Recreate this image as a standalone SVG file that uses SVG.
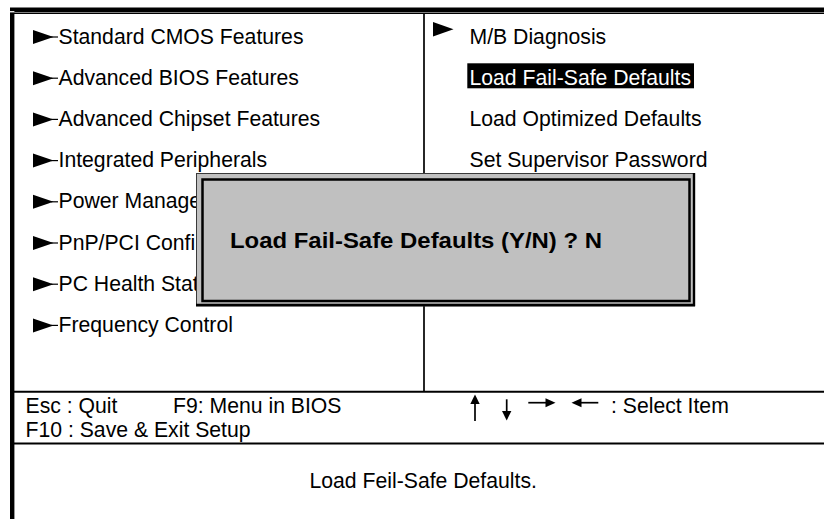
<svg xmlns="http://www.w3.org/2000/svg" width="824" height="519" viewBox="0 0 824 519">
  <style>
    .t { font-family: "Liberation Sans", Arial, sans-serif; font-size: 21.5px; fill: #000; }
    .inv { fill: #fff; }
    .b { font-weight: bold; font-size: 22.5px; }
    .ln { stroke: #000; fill: none; }
    .tri { fill: #000; }
  </style>
  <defs>
    <!-- submenu pointer: solid triangle with a short stub -->
    <g id="ptr">
      <polygon class="tri" points="0,-7 0,7 20.5,0"/>
      <line class="ln" x1="18" y1="0" x2="25" y2="0" stroke-width="1.2"/>
    </g>
  </defs>

  <rect x="0" y="0" width="824" height="519" fill="#fff"/>

  <!-- screen frame and dividers -->
  <g id="frame">
    <path class="ln" d="M12.2,519 V9.8 H824" stroke-width="4.4"/>
    <line class="ln" x1="14" y1="13.2" x2="824" y2="13.2" stroke-width="1.6"/>
    <rect x="10" y="11.1" width="4.4" height="1.3" fill="#fff"/>
    <line class="ln" x1="424" y1="13" x2="424" y2="391.7" stroke-width="1.7"/>
    <line class="ln" x1="14" y1="391.7" x2="824" y2="391.7" stroke-width="2"/>
    <line class="ln" x1="14" y1="443.6" x2="824" y2="443.6" stroke-width="2"/>
  </g>

  <!-- left menu column -->
  <g id="menu-left">
    <g id="item-standard-cmos"><use href="#ptr" x="33" y="37"/><text class="t" x="58.5" y="43.5" textLength="245" lengthAdjust="spacingAndGlyphs">Standard CMOS Features</text></g>
    <g id="item-advanced-bios"><use href="#ptr" x="33" y="78.2"/><text class="t" x="58.5" y="84.7" textLength="240.4" lengthAdjust="spacingAndGlyphs">Advanced BIOS Features</text></g>
    <g id="item-advanced-chipset"><use href="#ptr" x="33" y="119.4"/><text class="t" x="58.5" y="125.9" textLength="261.6" lengthAdjust="spacingAndGlyphs">Advanced Chipset Features</text></g>
    <g id="item-integrated"><use href="#ptr" x="33" y="160.6"/><text class="t" x="58.5" y="167.1" textLength="208.6" lengthAdjust="spacingAndGlyphs">Integrated Peripherals</text></g>
    <g id="item-power"><use href="#ptr" x="33" y="201.8"/><text class="t" x="58.5" y="208.3" textLength="142.6" lengthAdjust="spacingAndGlyphs">Power Manage</text></g>
    <g id="item-pnp"><use href="#ptr" x="33" y="243"/><text class="t" x="58.5" y="249.5" textLength="136.7" lengthAdjust="spacingAndGlyphs">PnP/PCI Confi</text></g>
    <g id="item-health"><use href="#ptr" x="33" y="284.2"/><text class="t" x="58.5" y="290.7" textLength="140.2" lengthAdjust="spacingAndGlyphs">PC Health Stat</text></g>
    <g id="item-frequency"><use href="#ptr" x="33" y="325.4"/><text class="t" x="58.5" y="331.9" textLength="174.4" lengthAdjust="spacingAndGlyphs">Frequency Control</text></g>
  </g>

  <!-- right menu column -->
  <g id="menu-right">
    <g id="item-mb-diagnosis">
      <polygon class="tri" points="433,22 433,36.4 453.5,29.2"/>
      <text class="t" x="469.5" y="43.5" textLength="136.7" lengthAdjust="spacingAndGlyphs">M/B Diagnosis</text>
    </g>
    <g id="item-failsafe">
      <rect x="467.3" y="63.3" width="226.7" height="25" fill="#000"/>
      <text class="t inv" x="469.5" y="84.7" textLength="221.5" lengthAdjust="spacingAndGlyphs">Load Fail-Safe Defaults</text>
    </g>
    <g id="item-optimized"><text class="t" x="469.5" y="125.9" textLength="232.1" lengthAdjust="spacingAndGlyphs">Load Optimized Defaults</text></g>
    <g id="item-supervisor"><text class="t" x="469.5" y="167.1" textLength="238" lengthAdjust="spacingAndGlyphs">Set Supervisor Password</text></g>
  </g>

  <!-- key help bar -->
  <g id="keys">
    <text class="t" x="25.5" y="412.7" textLength="91.9" lengthAdjust="spacingAndGlyphs">Esc : Quit</text>
    <text class="t" x="173" y="412.7" textLength="168.5" lengthAdjust="spacingAndGlyphs">F9: Menu in BIOS</text>
    <text class="t" x="25.5" y="436.7" textLength="225.1" lengthAdjust="spacingAndGlyphs">F10 : Save &amp; Exit Setup</text>
    <g id="arrow-keys">
      <line class="ln" x1="475" y1="401" x2="475" y2="421" stroke-width="1.7"/>
      <polygon class="tri" points="475,394.5 470.3,404 479.7,404"/>
      <line class="ln" x1="506.7" y1="399.3" x2="506.7" y2="413" stroke-width="1.7"/>
      <polygon class="tri" points="506.7,420.5 502,411 511.4,411"/>
      <line class="ln" x1="528.3" y1="402.7" x2="547" y2="402.7" stroke-width="1.7"/>
      <polygon class="tri" points="555.5,402.7 545.5,398.2 545.5,407.2"/>
      <line class="ln" x1="580" y1="402.7" x2="598.3" y2="402.7" stroke-width="1.7"/>
      <polygon class="tri" points="571.5,402.7 581.5,398.2 581.5,407.2"/>
    </g>
    <text class="t" x="611" y="412.7" textLength="117.8" lengthAdjust="spacingAndGlyphs">: Select Item</text>
  </g>

  <!-- item description -->
  <g id="description">
    <text class="t" x="309.5" y="488.3" textLength="227.4" lengthAdjust="spacingAndGlyphs">Load Feil-Safe Defaults.</text>
  </g>

  <!-- confirmation dialog -->
  <g id="dialog">
    <rect x="196.5" y="173.5" width="498" height="132.5" fill="#c0c0c0" stroke="#3a3a3a" stroke-width="1"/>
    <path class="ln" d="M196,305 H694 V173" stroke="#111" stroke-width="2.4"/>
    <rect x="202.5" y="179.5" width="487" height="121.5" class="ln" stroke-width="2.5"/>
    <text class="t b" x="230" y="248" textLength="372" lengthAdjust="spacingAndGlyphs">Load Fail-Safe Defaults (Y/N) ? N</text>
  </g>
</svg>
